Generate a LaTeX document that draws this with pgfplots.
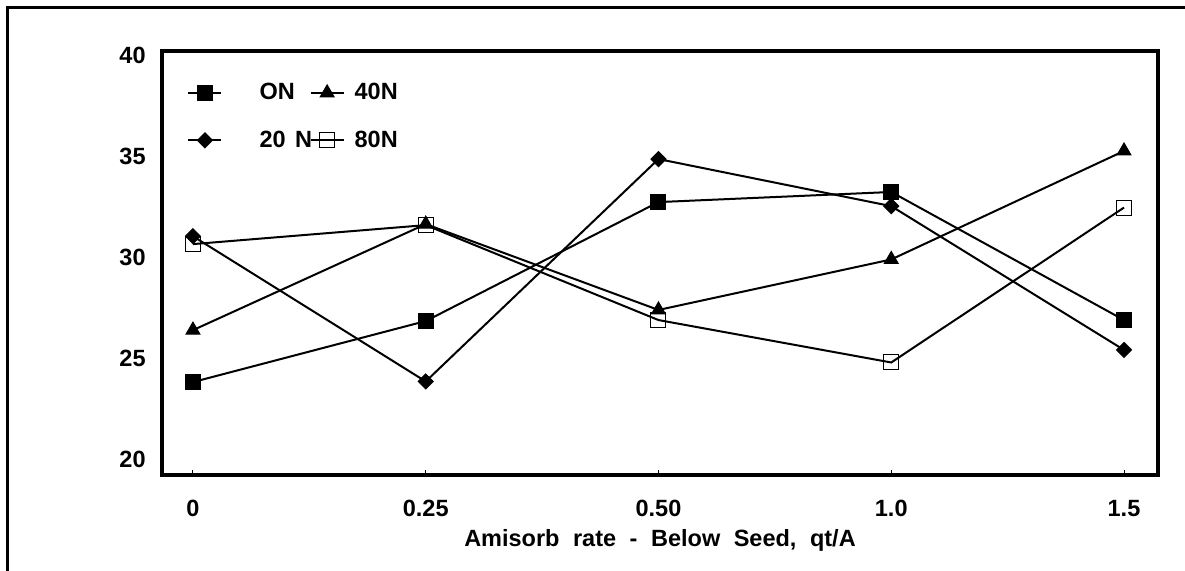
\documentclass[border=0pt]{standalone}
\usepackage{fontspec}
\setmainfont{Liberation Sans}
\usepackage{pgfplots}
\pgfplotsset{compat=1.18}
\newcommand{\fs}{\fontsize{11.75}{14}\selectfont\bfseries}
\newcommand{\gap}{\hspace{3.5pt}}
\begin{document}
\begin{tikzpicture}
\useasboundingbox (-81pt,-48pt) rectangle (511.5pt,237.5pt);
\begin{axis}[
  at={(0,0)}, anchor=south west, scale only axis,
  width=498pt, height=212pt,
  xmin=-0.133, xmax=4.146, ymin=19.23, ymax=40.22,
  xtick={0,1,2,3,4}, xticklabels={0,0.25,0.50,1.0,1.5},
  ytick={20,25,30,35,40}, yticklabels={20,25,30,35,40},
  xtick pos=bottom, ytick pos=left,
  axis line style={line width=1.75pt, line cap=rect, line join=miter},
  major tick length=2.5pt,
  xtick style={line width=0.5pt, black},
  ytick style={draw=none},
  xticklabel style={font=\fs, anchor=north, inner sep=0pt, yshift=-12.5pt},
  yticklabel style={font=\fs, anchor=east, inner sep=0pt, xshift=-8pt},
  xlabel={Amisorb\gap{} rate\gap{} -\gap{} Below\gap{} Seed,\gap{} qt/A},
  xlabel style={font=\fs, at={(axis description cs:0.5,0)}, anchor=north, inner sep=0pt, yshift=-27pt},
  legend columns=2, legend cell align=left,
  legend style={draw=none, fill=none, font=\fs,
    at={(axis description cs:0.0251,0.925)}, anchor=north west,
    inner sep=0pt, nodes={inner sep=0pt}, row sep=14pt,
    /tikz/column 1/.style={column sep=18.6pt},
    /tikz/column 2/.style={column sep=-1.3pt},
    /tikz/column 3/.style={column sep=5pt}},
  legend image code/.code={\draw[mark repeat=2,mark phase=2,#1] plot coordinates {(0pt,0pt) (8.25pt,0pt) (16.5pt,0pt)};},
  every axis plot/.append style={black, line width=1pt},
]
\addplot[mark=square*, mark size=3.75pt, mark options={solid, line width=0.5pt}]
  coordinates {(0,23.83) (1,26.85) (2,32.74) (3,33.24) (4,26.90)};
\addlegendentry{ON}
\addplot[mark=triangle*, mark size=4pt, mark options={solid, line width=0.5pt}]
  coordinates {(0,26.4) (1,31.65) (2,27.4) (3,29.9) (4,35.27)};
\addlegendentry{40N}
\addplot[mark=square*, mark size=2.65pt, mark options={solid, rotate=45, line width=0.5pt}]
  coordinates {(0,31.05) (1,23.86) (2,34.87) (3,32.54) (4,25.42)};
\addlegendentry{20\hspace{1.5pt} N}
\addplot[mark=square, mark size=3.75pt, mark options={solid, line width=0.5pt}]
  coordinates {(0,30.66) (1,31.6) (2,26.9) (3,24.8) (4,32.47)};
\addlegendentry{80N}
\end{axis}
\draw[line width=1.5pt, line join=miter] (-77pt,-48pt) -- (-77pt,233.5pt) -- (511.5pt,233.5pt);
\end{tikzpicture}
\end{document}
